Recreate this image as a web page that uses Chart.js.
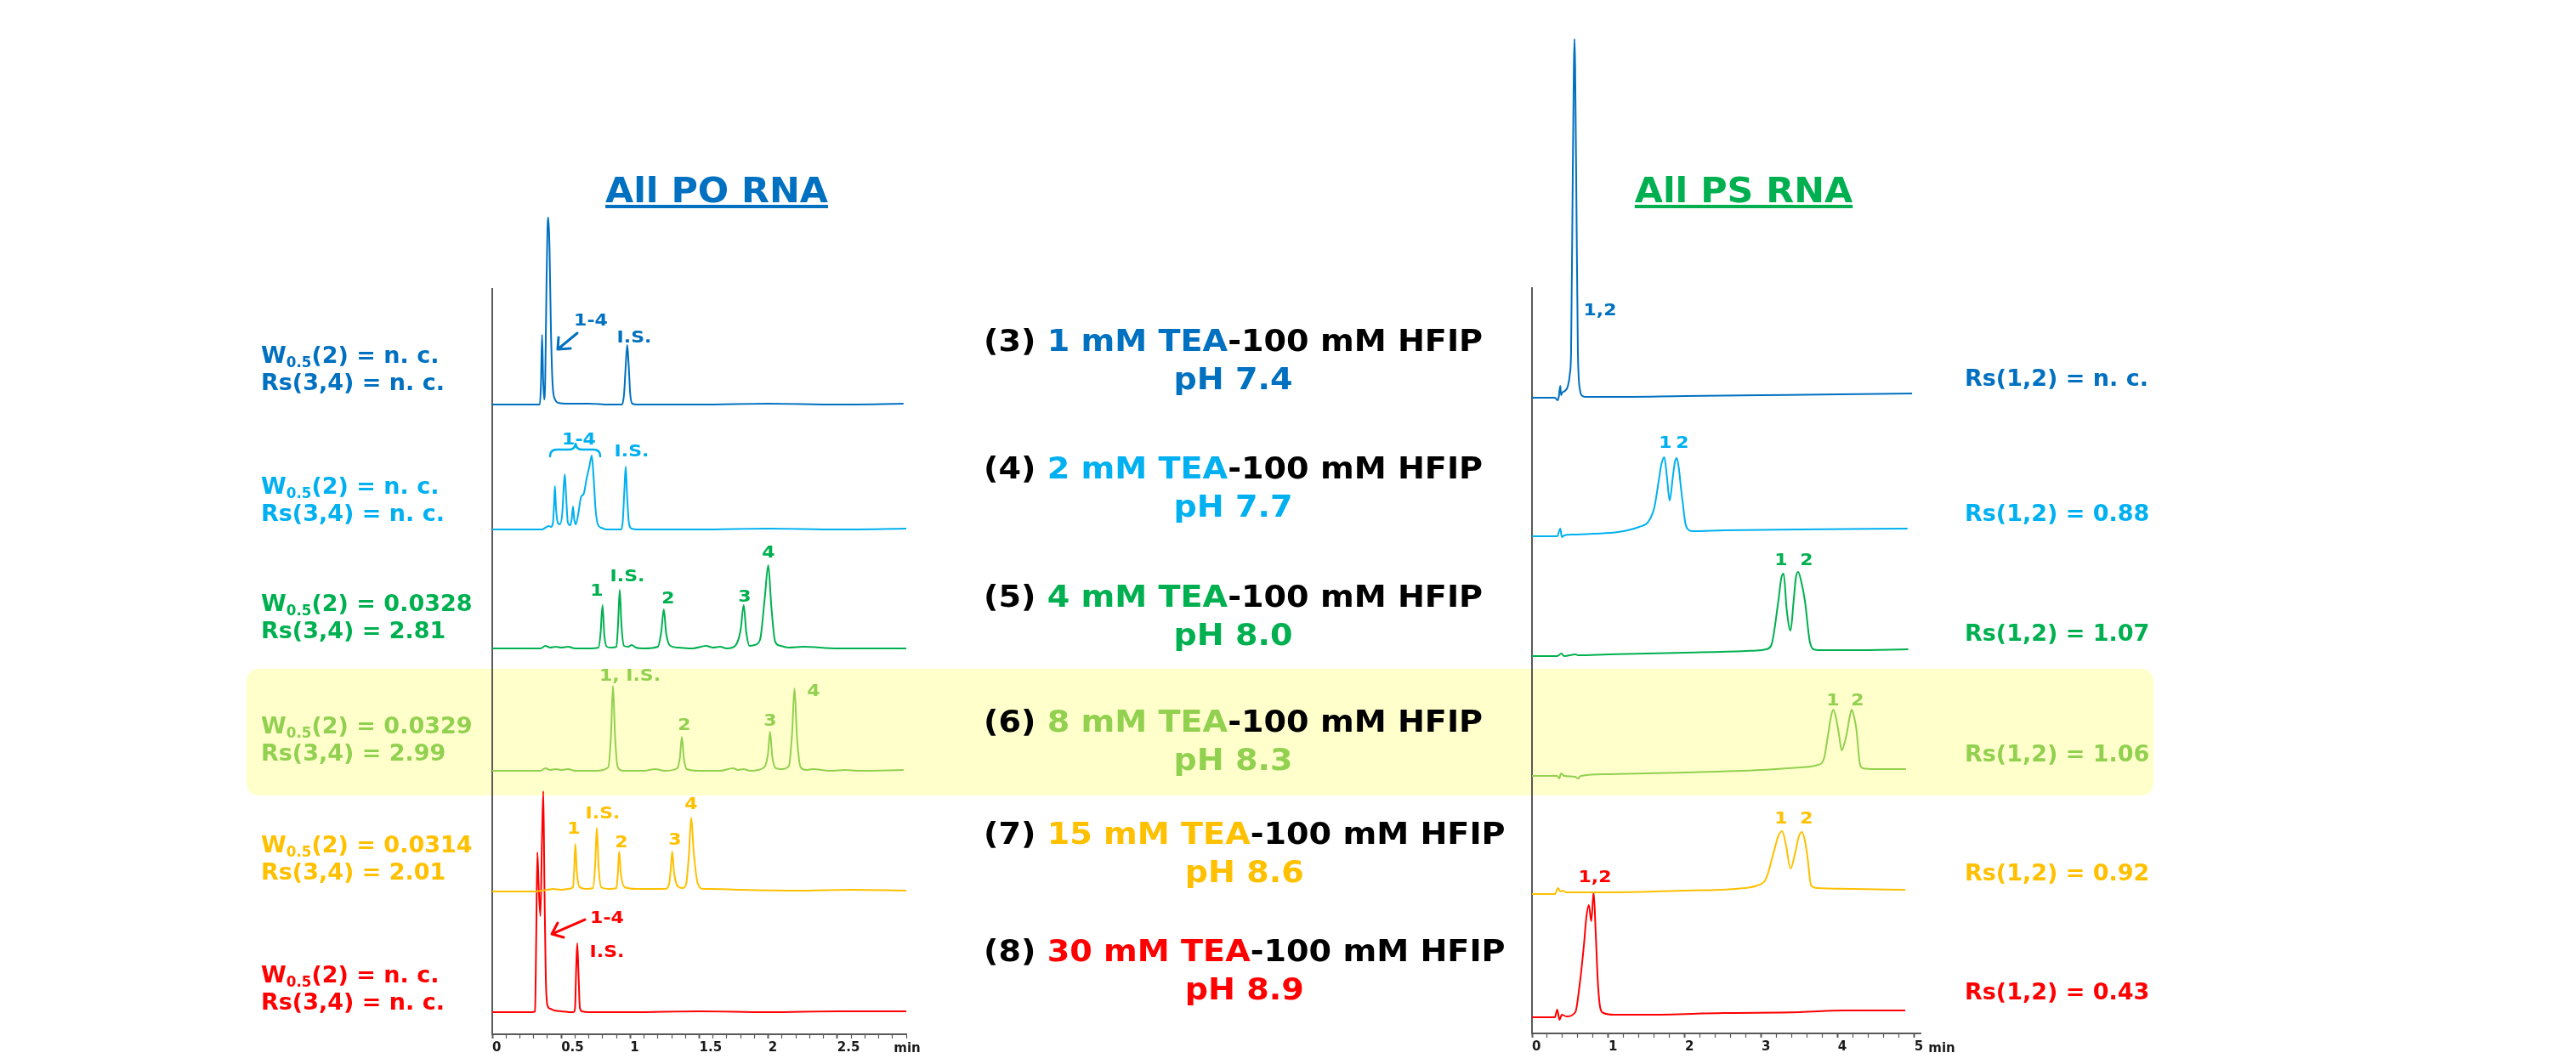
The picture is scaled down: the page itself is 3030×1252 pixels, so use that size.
<!DOCTYPE html>
<html>
<head>
<meta charset="utf-8">
<script src="https://cdn.jsdelivr.net/npm/chart.js@4.4.1/dist/chart.umd.min.js"></script>
<style>
body { margin:0; background:#fff; }
#page { position:relative; width:3030px; height:1252px; overflow:hidden; font-family:"DejaVu Sans", Verdana, sans-serif; font-weight:bold; }
.t { position:absolute; white-space:nowrap; line-height:1; }
.c { transform:translate(-50%,-50%); }
.pk { transform:translate(-50%,-50%) scaleX(1.1); }
.l { transform:translate(0,-50%); }
sub { font-size:0.62em; vertical-align:-0.32em; line-height:0; }
.note { position:absolute; white-space:nowrap; font-size:27px; line-height:32px; }
.cond { position:absolute; white-space:nowrap; text-align:center; font-size:35px; line-height:45px; color:#000; transform:scaleX(1.09); transform-origin:left top; }
.hl { position:absolute; left:290px; top:787px; width:2243px; height:149px; background:#ffffcc; border-radius:14px; }
.title { position:absolute; font-size:40px; line-height:1; transform:translate(-50%,-50%) scaleX(1.07); text-decoration:underline; text-decoration-thickness:4px; text-underline-offset:3px; }
canvas { position:absolute; top:0; }
</style>
</head>
<body>
<div id="page">
  <div class="hl"></div>
  <canvas id="poChart" width="650" height="1252" style="left:500px"></canvas>
  <canvas id="psChart" width="700" height="1252" style="left:1700px"></canvas>
  <svg width="3030" height="1252" style="position:absolute;left:0;top:0">
    <g fill="none" stroke-width="3" stroke-linecap="round" stroke-linejoin="round">
      <path d="M679,392 L656,411 M657,397 L656,411 L671,410" stroke="#0070C0"/>
      <path d="M647,537 Q647,529 655,529 L670,529 Q676,529 677,522 Q678,529 684,529 L698,529 Q706,529 706,537" stroke="#00B0F0" stroke-width="2.5"/>
      <path d="M688,1082 L649,1099 M656,1086 L649,1099 L663,1103" stroke="#FF0000"/>
    </g>
  </svg>
  <div class="title" style="left:843px;top:224px;color:#0070C0">All PO RNA</div>
  <div class="title" style="left:2051px;top:224px;color:#00B050">All PS RNA</div>
  <div class="t c" style="left:1067px;top:1233px;font-size:15px;color:#1a1a1a">min</div>
  <div class="t c" style="left:2284px;top:1233px;font-size:15px;color:#1a1a1a">min</div>
</div>
<script>
// run order: (3) 1 mM, (4) 2 mM, (5) 4 mM, (6) 8 mM, (7) 15 mM, (8) 30 mM TEA
const runColors = ['#0070C0', '#00B0F0', '#00B050', '#92D050', '#FFC000', '#FF0000'];
const runNo = ['3', '4', '5', '6', '7', '8'];
const teaConc = ['1', '2', '4', '8', '15', '30'];
const runPH = ['7.4', '7.7', '8.0', '8.3', '8.6', '8.9'];
const poW05 = ['n. c.', 'n. c.', '0.0328', '0.0329', '0.0314', 'n. c.'];
const poRs34 = ['n. c.', 'n. c.', '2.81', '2.99', '2.01', 'n. c.'];
const psRs12 = ['n. c.', '0.88', '1.07', '1.06', '0.92', '0.43'];

// All PO RNA traces: time (min) / signal
const poTime3 = [0, 0.30, 0.345, 0.353, 0.361, 0.369, 0.376, 0.384, 0.393, 0.400, 0.407, 0.415, 0.425, 0.437, 0.455, 0.48, 0.55, 0.7, 0.85, 0.94, 0.955, 0.967, 0.978, 0.989, 1.0, 1.015, 1.05, 1.5, 2.0, 2.5, 2.98];
const poSignal3 = [0, 0, 0, 25, 82, 28, 6, 30, 140, 205, 220, 185, 90, 25, 6, 2, 1, 1, 0, 0, 12, 45, 70, 45, 12, 1, 0, 0, 1, 0, 1];
const poTime4 = [0, 0.36, 0.385, 0.41, 0.425, 0.44, 0.448, 0.454, 0.462, 0.475, 0.49, 0.508, 0.518, 0.526, 0.535, 0.548, 0.565, 0.577, 0.585, 0.594, 0.606, 0.625, 0.643, 0.663, 0.684, 0.705, 0.721, 0.735, 0.748, 0.765, 0.79, 0.83, 0.93, 0.945, 0.957, 0.967, 0.977, 0.99, 1.01, 1.05, 1.5, 2.0, 2.5, 3.0];
const poSignal4 = [0, 0, 2, 4, 3, 8, 30, 51, 25, 8, 6, 20, 50, 65, 40, 8, 5, 14, 27, 12, 6, 20, 38, 42, 60, 75, 87, 60, 25, 6, 2, 0, 0, 8, 45, 74, 40, 8, 1, 0, 0, 1, 0, 1];
const poTime5 = [0, 0.35, 0.385, 0.42, 0.46, 0.5, 0.55, 0.6, 0.7, 0.77, 0.785, 0.799, 0.812, 0.83, 0.86, 0.9, 0.912, 0.924, 0.936, 0.955, 0.985, 1.01, 1.04, 1.1, 1.2, 1.225, 1.243, 1.26, 1.29, 1.35, 1.45, 1.55, 1.6, 1.65, 1.7, 1.76, 1.8, 1.822, 1.84, 1.865, 1.9, 1.94, 1.975, 2.0, 2.022, 2.05, 2.09, 2.15, 2.25, 2.5, 3.0];
const poSignal5 = [0, 0, 3, 1, 2, 1, 2, 0, 0, 1, 18, 51, 16, 2, 1, 2, 30, 69, 28, 3, 2, 4, 1, 0, 2, 20, 46, 18, 3, 1, 0, 3, 1, 2, 0, 3, 22, 51, 20, 3, 4, 10, 60, 98, 50, 8, 3, 1, 2, 0, 0];
const poTime6 = [0, 0.35, 0.385, 0.42, 0.46, 0.5, 0.55, 0.6, 0.75, 0.84, 0.86, 0.875, 0.89, 0.91, 0.95, 1.1, 1.18, 1.25, 1.34, 1.36, 1.374, 1.388, 1.41, 1.5, 1.65, 1.745, 1.78, 1.82, 1.87, 1.97, 1.998, 2.013, 2.028, 2.055, 2.1, 2.15, 2.173, 2.19, 2.208, 2.235, 2.28, 2.32, 2.45, 2.56, 2.65, 2.98];
const poSignal6 = [0, 0, 3, 1, 2, 1, 2, 0, 0, 4, 40, 100, 40, 4, 0, 0, 2, 0, 3, 16, 40, 15, 2, 0, 0, 3, 1, 2, 0, 4, 20, 46, 18, 3, 2, 6, 45, 97, 40, 4, 1, 2, 0, 1, 0, 1];
const poTime7 = [0, 0.3, 0.4, 0.44, 0.5, 0.55, 0.585, 0.593, 0.602, 0.612, 0.63, 0.68, 0.73, 0.745, 0.758, 0.77, 0.79, 0.85, 0.9, 0.91, 0.92, 0.932, 0.96, 1.05, 1.18, 1.25, 1.282, 1.293, 1.304, 1.317, 1.345, 1.38, 1.405, 1.425, 1.442, 1.46, 1.49, 1.53, 1.6, 1.8, 2.2, 2.6, 3.0];
const poSignal7 = [-1, -1, 1, 2, 1, 2, 4, 22, 55, 25, 5, 2, 3, 28, 74, 30, 4, 2, 3, 20, 46, 20, 4, 2, 2, 2, 8, 25, 46, 22, 5, 3, 8, 42, 86, 45, 8, 2, 2, 1, 0, 1, 0];
const poTime8 = [0, 0.29, 0.31, 0.318, 0.327, 0.336, 0.349, 0.36, 0.37, 0.378, 0.388, 0.4, 0.42, 0.45, 0.5, 0.59, 0.6, 0.608, 0.616, 0.625, 0.635, 0.65, 0.7, 1.0, 1.5, 2.0, 2.5, 3.0];
const poSignal8 = [0, 0, 1, 80, 188, 150, 113, 200, 260, 150, 40, 8, 4, 2, 1, 0, 5, 50, 81, 45, 5, 1, 0, 0, 1, 0, 1, 1];

// All PS RNA traces
const psTime3 = [0, 0.3, 0.335, 0.35, 0.37, 0.38, 0.395, 0.43, 0.47, 0.495, 0.511, 0.533, 0.556, 0.578, 0.6, 0.63, 0.66, 0.7, 1.0, 2.0, 3.0, 4.0, 4.97];
const psSignal3 = [0, 0, -3, 1, 14, 3, 6, 8, 14, 28, 54, 261, 422, 261, 54, 8, 2, 1, 1, 2, 3, 4, 5];
const psTime4 = [0, 0.33, 0.37, 0.39, 0.42, 0.55, 0.8, 1.13, 1.4, 1.52, 1.6, 1.66, 1.69, 1.73, 1.763, 1.8, 1.843, 1.87, 1.893, 1.92, 1.95, 1.973, 2.0, 2.03, 2.1, 2.5, 3.5, 4.91];
const psSignal4 = [0, 0, 9, -1, 1, 2, 3, 5, 11, 17, 34, 67, 84, 93, 71, 42, 71, 88, 92, 80, 55, 38, 18, 9, 6, 7, 8, 9];
const psTime5 = [0, 0.33, 0.385, 0.42, 0.57, 0.6, 1.0, 2.0, 2.8, 3.0, 3.06, 3.13, 3.22, 3.26, 3.29, 3.33, 3.38, 3.42, 3.45, 3.48, 3.52, 3.57, 3.63, 3.68, 3.75, 4.2, 4.92];
const psSignal5 = [0, 0, 3, 0, 2, 1, 2, 4, 6, 7, 8, 13, 64, 92, 97, 55, 30, 64, 92, 99, 88, 64, 18, 8, 7, 7, 8];
const psTime6 = [0, 0.33, 0.356, 0.38, 0.42, 0.56, 0.6, 0.64, 1.0, 2.0, 3.0, 3.5, 3.74, 3.82, 3.87, 3.91, 3.94, 3.98, 4.015, 4.05, 4.09, 4.12, 4.155, 4.18, 4.21, 4.24, 4.29, 4.33, 4.5, 4.89];
const psSignal6 = [0, 0, -3, 3, 0, -1, -3, 0, 2, 4, 7, 10, 13, 21, 48, 70, 78, 66, 48, 30, 40, 52, 70, 78, 70, 56, 13, 9, 8, 8];
const psTime7 = [0, 0.3, 0.34, 0.37, 0.4, 0.45, 1.0, 2.0, 2.77, 2.94, 3.06, 3.16, 3.22, 3.27, 3.32, 3.38, 3.44, 3.49, 3.53, 3.57, 3.6, 3.65, 3.74, 4.2, 4.88];
const psSignal7 = [0, 0, 7, 3, 4, 2, 2, 4, 7, 10, 18, 49, 68, 74, 58, 30, 48, 68, 73, 62, 45, 10, 7, 6, 5];
const psTime8 = [0, 0.3, 0.33, 0.36, 0.39, 0.45, 0.567, 0.62, 0.68, 0.71, 0.743, 0.775, 0.806, 0.835, 0.862, 0.895, 0.935, 1.08, 1.5, 2.5, 3.5, 4.07, 4.88];
const psSignal8 = [0, 0, 9, -3, 3, 1, 6, 36, 86, 117, 132, 113, 147, 95, 40, 10, 5, 3, 3, 5, 6, 8, 8];

// axis ticks (labels start at the tick; "min" is placed as text)
const poTickValues = [0, 0.5, 1, 1.5, 2, 2.5];
const poTickText = ['0', '0.5', '1', '1.5', '2', '2.5'];
const psTickValues = [0, 1, 2, 3, 4, 5];
const psTickText = ['0', '1', '2', '3', '4', '5'];

// vertical offset of each trace in its panel
const poOffset = [741, 594, 454, 310, 169, 26];
const psOffset = [748, 585, 444, 303, 164, 19];

const AXIS = '#595959';

function tickLabel(values, text, v) {
    const i = values.findIndex(t => Math.abs(t - v) < 1e-6);
    return i < 0 ? '' : text[i];
}

function traces(times, signals, offsets) {
    return times.map((t, i) => ({
        data: t.map((x, j) => ({x: x, y: signals[i][j] + offsets[i]})),
        borderColor: runColors[i],
        borderWidth: 2,
        pointRadius: 0,
        cubicInterpolationMode: 'monotone',
        clip: false
    }));
}

function panel(id, datasets, xMax, step, tickValues, tickText, axisH, pad, yMax) {
    new Chart(document.getElementById(id), {
        type: 'line',
        data: {datasets: datasets},
        options: {
            responsive: false,
            animation: false,
            layout: {padding: pad},
            plugins: {legend: {display: false}, tooltip: {enabled: false}},
            scales: {
                x: {
                    type: 'linear', min: 0, max: xMax,
                    afterFit: s => { s.height = axisH; },
                    border: {color: AXIS, width: 2},
                    grid: {drawOnChartArea: false, tickLength: 5, tickColor: AXIS,
                        tickWidth: c => (c.tick && tickLabel(tickValues, tickText, c.tick.value) !== '') ? 2 : 1.2},
                    ticks: {stepSize: step, autoSkip: false, maxRotation: 0, includeBounds: false, padding: 2,
                        align: 'start',
                        color: '#1a1a1a', font: {family: 'DejaVu Sans', weight: 'bold', size: 15},
                        callback: v => tickLabel(tickValues, tickText, v)}
                },
                y: {
                    min: 0, max: yMax,
                    afterFit: s => { s.width = 0; },
                    border: {color: AXIS, width: 2},
                    grid: {drawOnChartArea: false, drawTicks: false},
                    ticks: {display: false}
                }
            }
        }
    });
}

panel('poChart',
    traces([poTime3, poTime4, poTime5, poTime6, poTime7, poTime8],
        [poSignal3, poSignal4, poSignal5, poSignal6, poSignal7, poSignal8], poOffset),
    3, 0.1, poTickValues, poTickText, 35, {left: 79, right: 84, top: 340, bottom: 0}, 877);

panel('psChart',
    traces([psTime3, psTime4, psTime5, psTime6, psTime7, psTime8],
        [psSignal3, psSignal4, psSignal5, psSignal6, psSignal7, psSignal8], psOffset),
    5.08, 0.2, psTickValues, psTickText, 36, {left: 102, right: 141, top: 339, bottom: 0}, 877);

// text
const page = document.getElementById('page');
function add(cls, html, style) {
    const d = document.createElement('div');
    d.className = cls;
    d.innerHTML = html;
    d.setAttribute('style', style);
    page.appendChild(d);
}

const poNoteY = [418, 572, 710, 854, 994, 1147];
const psNoteY = [444, 603, 744, 886, 1026, 1166];
const condTop = [379, 529, 680, 827, 959, 1097];
runColors.forEach((col, i) => {
    add('note', 'W<sub>0.5</sub>(2) = ' + poW05[i] + '<br>Rs(3,4) = ' + poRs34[i],
        'left:307px;top:' + (poNoteY[i] - 16) + 'px;color:' + col);
    add('t l', 'Rs(1,2) = ' + psRs12[i],
        'left:2311px;top:' + psNoteY[i] + 'px;font-size:27px;color:' + col);
    add('cond', '(' + runNo[i] + ') <span style="color:' + col + '">' + teaConc[i] + ' mM TEA</span>-100 mM HFIP<br>' +
        '<span style="color:' + col + '">pH ' + runPH[i] + '</span>',
        'left:1157px;top:' + condTop[i] + 'px');
});

const peakLabels = [
    ['1-4', 695, 376, 0], ['I.S.', 746, 396, 0],
    ['1-4', 681, 516, 1], ['I.S.', 743, 530, 1],
    ['1', 702, 694, 2], ['I.S.', 738, 677, 2], ['2', 786, 703, 2], ['3', 876, 701, 2], ['4', 904, 649, 2],
    ['1, I.S.', 741, 794, 3], ['2', 805, 852, 3], ['3', 906, 847, 3], ['4', 957, 812, 3],
    ['1', 675, 974, 4], ['I.S.', 709, 956, 4], ['2', 731, 990, 4], ['3', 794, 987, 4], ['4', 813, 945, 4],
    ['1-4', 714, 1079, 5], ['I.S.', 714, 1119, 5],
    ['1,2', 1882, 364, 0], ['1', 1959, 520, 1], ['2', 1979, 520, 1],
    ['1', 2095, 658, 2], ['2', 2125, 658, 2], ['1', 2156, 823, 3], ['2', 2185, 823, 3],
    ['1', 2095, 962, 4], ['2', 2125, 962, 4], ['1,2', 1876, 1031, 5]
];
peakLabels.forEach(p => {
    add('t pk', p[0], 'left:' + p[1] + 'px;top:' + p[2] + 'px;font-size:20px;color:' + runColors[p[3]]);
});
</script>
</body>
</html>
